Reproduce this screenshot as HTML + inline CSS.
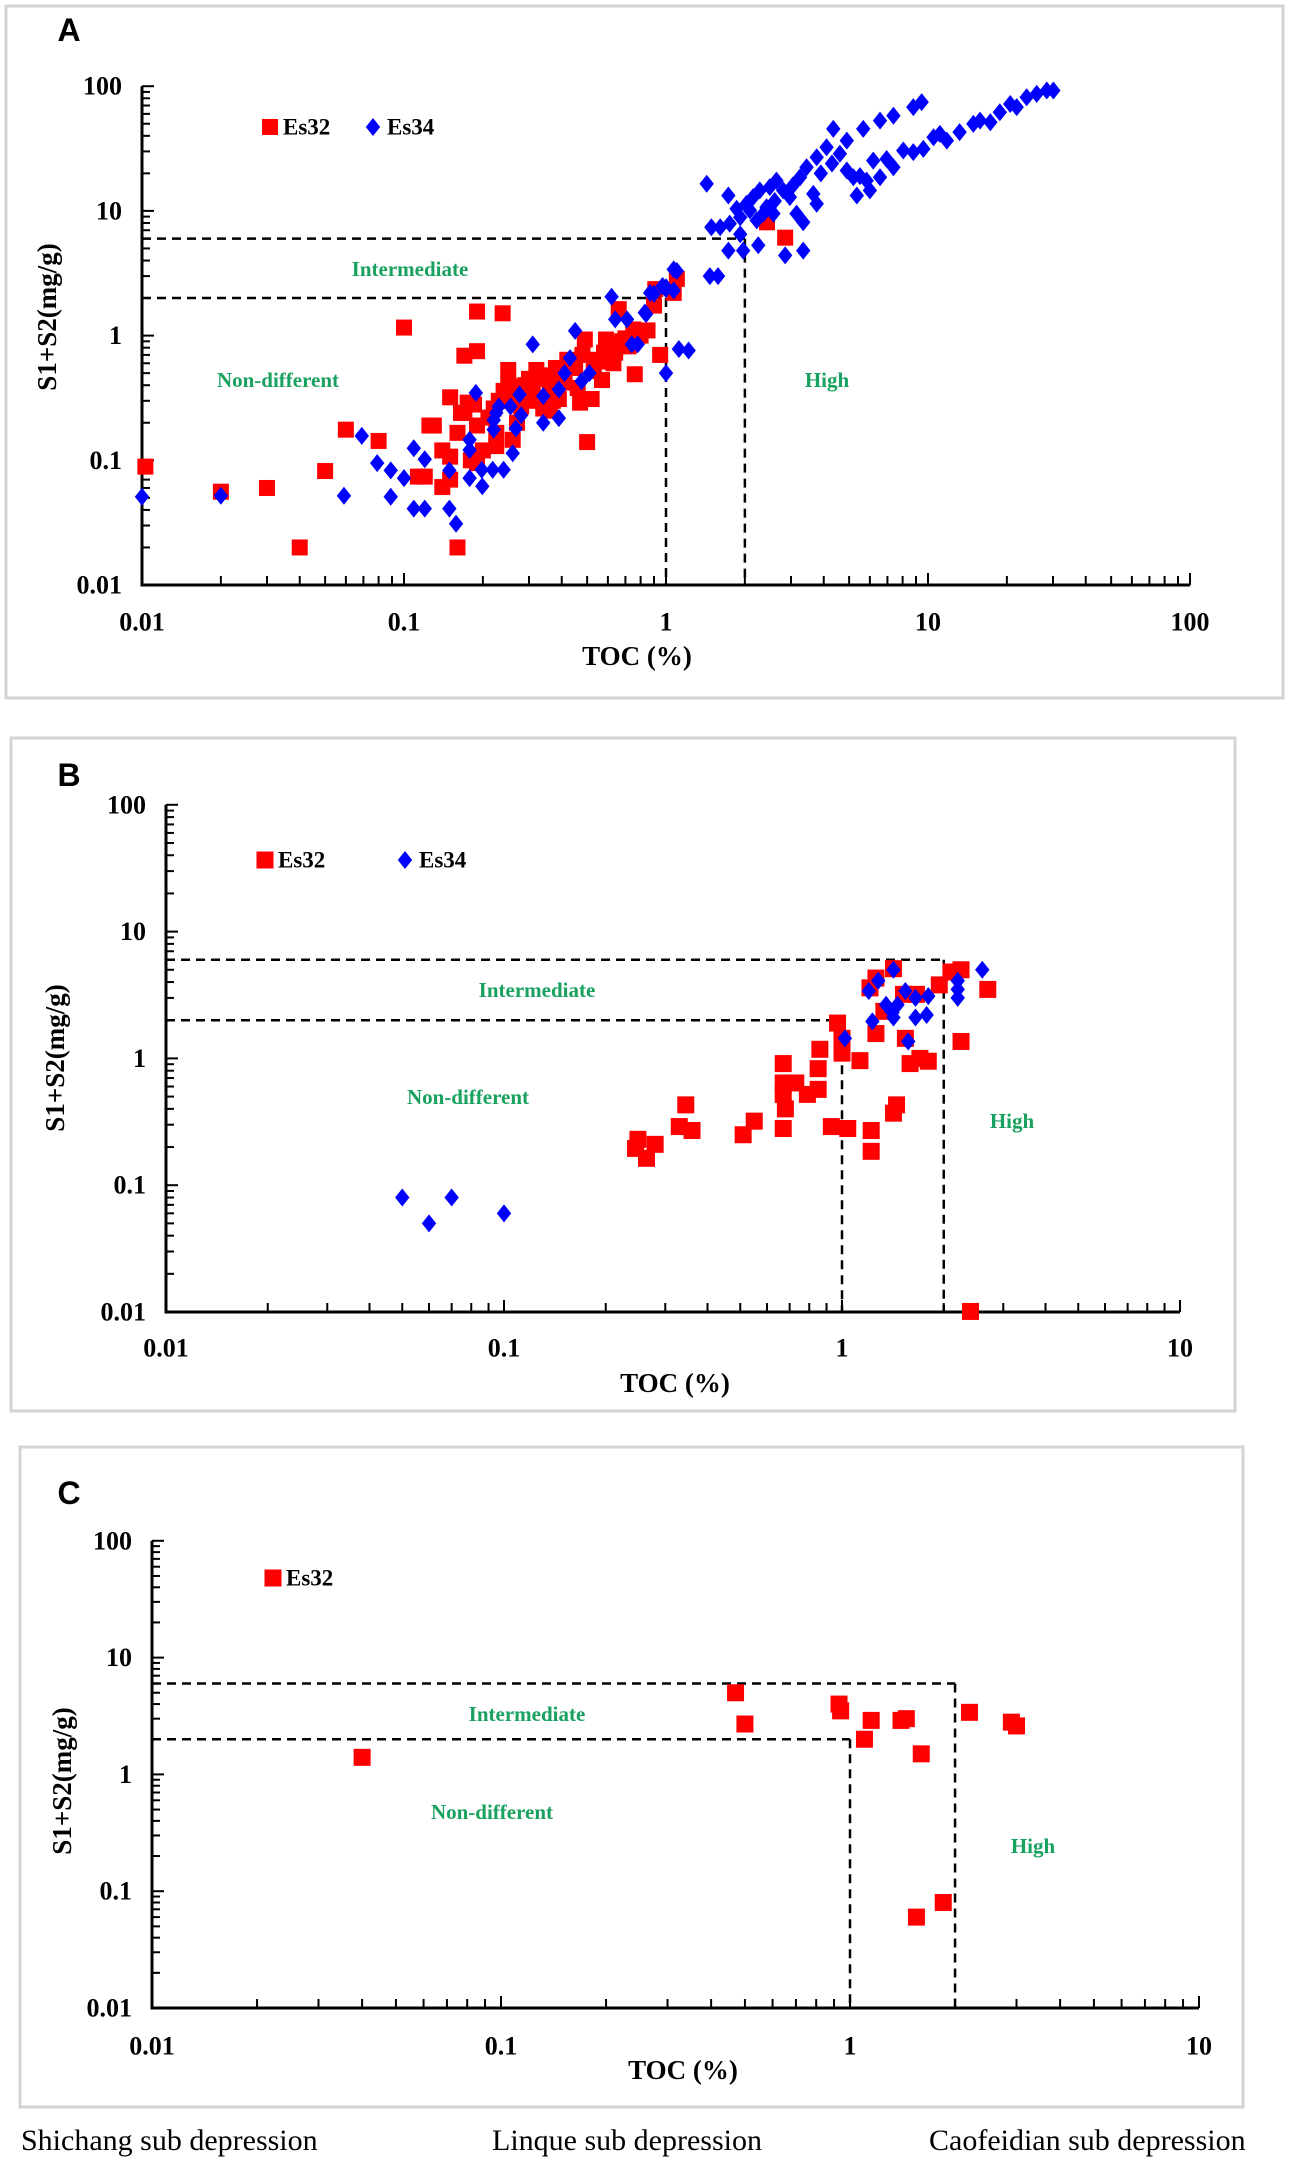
<!DOCTYPE html>
<html><head><meta charset="utf-8"><style>
html,body{margin:0;padding:0;background:#fff;}
svg{display:block;}
.tick{font-family:"Liberation Serif",serif;font-weight:bold;font-size:26px;fill:#000;}
.ttl{font-family:"Liberation Serif",serif;font-weight:bold;font-size:27px;fill:#000;}
.zone{font-family:"Liberation Serif",serif;font-weight:bold;font-size:21px;fill:#19a15f;}
.leg{font-family:"Liberation Serif",serif;font-weight:bold;font-size:23px;fill:#000;}
.letter{font-family:"Liberation Sans",sans-serif;font-weight:bold;font-size:32px;fill:#000;}
.bot{font-family:"Liberation Serif",serif;font-size:30px;fill:#000;}
</style></head><body>
<svg id="fig" width="1304" height="2162" viewBox="0 0 1304 2162" xmlns="http://www.w3.org/2000/svg">
<text class="bot" x="21" y="2150">Shichang sub depression</text>
<text class="bot" x="492" y="2150">Linque sub depression</text>
<text class="bot" x="929" y="2150">Caofeidian sub depression</text>
</svg>
<script>
// ---- Panel A data ----
const aRedX = [0.0103,0.020,0.030,0.040,0.050,0.060,0.080,0.10,0.19,0.238,0.17,0.19,0.15,0.125,0.13,0.113,0.12,0.14,0.15,0.16,0.165,0.175,0.19,0.19,0.14,0.15,0.16,0.25,0.25,0.225,0.26,0.32,0.31,0.36,0.42,0.49,0.39,0.47,0.52,0.57,0.59,0.64,0.66,0.75,0.50,0.76,0.58,0.54,0.90,0.95,0.91,1.10,1.07,0.28,0.36,0.225,0.27,0.18,2.85,2.43,0.30,0.45,0.40,0.62,0.70,
 0.21,0.23,0.24,0.26,0.29,0.33,0.35,0.38,0.44,0.48,0.55,0.60,0.68,0.72,0.80,0.85,0.22,0.30,0.34,0.41,0.46,0.53,0.63,0.20,0.27,0.37,0.17,0.185];
const aRedY = [0.089,0.056,0.060,0.020,0.082,0.176,0.143,1.16,1.56,1.51,0.69,0.75,0.32,0.19,0.19,0.074,0.074,0.12,0.107,0.166,0.24,0.29,0.19,0.095,0.061,0.07,0.020,0.53,0.42,0.166,0.146,0.53,0.35,0.39,0.64,0.93,0.31,0.29,0.31,0.44,0.93,0.73,1.63,1.12,0.14,0.49,0.73,0.64,1.74,0.70,2.36,2.85,2.2,0.27,0.25,0.13,0.39,0.10,6.1,8.1,0.45,0.55,0.48,0.85,0.95,
 0.22,0.30,0.36,0.34,0.40,0.45,0.48,0.55,0.58,0.70,0.62,0.80,0.90,0.82,1.0,1.1,0.26,0.30,0.26,0.42,0.38,0.52,0.60,0.12,0.20,0.30,0.24,0.28];
const aBlueX = [1.43,1.73,1.49,1.61,1.75,1.92,1.86,2.03,2.15,2.28,2.49,2.64,2.8,2.97,2.42,2.57,2.22,2.09,1.92,1.73,1.97,2.25,1.47,1.58,3.15,3.34,3.76,3.65,3.25,3.44,3.76,4.1,4.35,4.61,4.9,4.9,5.19,5.66,6.56,7.38,8.79,9.46,5.35,6.0,5.83,6.56,6.18,6.95,7.38,8.05,8.79,9.6,10.5,11.1,11.8,13.2,14.9,15.8,17.3,18.8,20.6,21.8,23.8,26,28.4,30.1,2.85,3.34,1.22,1.1,1.0,1.07,0.9,0.84,
 0.01,0.020,0.059,0.069,0.079,0.089,0.089,0.10,0.109,0.12,0.109,0.12,0.149,0.149,0.158,0.178,0.178,0.178,0.199,0.198,0.218,0.24,0.188,0.22,0.22,0.23,0.225,0.255,0.267,0.26,0.276,0.28,0.31,0.34,0.34,0.39,0.39,0.41,0.43,0.45,0.476,0.51,0.62,0.64,0.71,0.74,0.78,0.83,0.87,0.97,1.0,1.07,1.0,1.12,2.35,2.6,3.05,3.9,4.3,5.5];
const aBlueY = [16.5,13.3,7.4,7.4,7.9,8.9,10.4,11.4,12.9,14.6,15.5,17.5,14.6,12.9,10.7,9.5,8.4,10.1,6.5,4.8,4.8,5.3,3.0,3.0,9.5,8.1,11.4,13.7,18.6,22.4,26.9,32.4,45.5,28.7,36.6,21.1,18.6,45.5,53,58,68,74.5,13.3,14.6,17.5,18.6,25.3,26.1,22.4,30.5,29.6,31.4,39,41.5,36.6,42.8,49.9,53,51.4,61.8,72,68,81.6,86.8,92.3,92.3,4.4,4.8,0.76,3.3,2.44,2.3,2.16,1.49,
 0.051,0.052,0.052,0.157,0.095,0.083,0.051,0.072,0.125,0.102,0.041,0.041,0.041,0.083,0.031,0.146,0.121,0.072,0.062,0.084,0.084,0.084,0.347,0.176,0.21,0.27,0.24,0.27,0.18,0.114,0.337,0.23,0.85,0.327,0.2,0.37,0.218,0.5,0.66,1.09,0.43,0.5,2.05,1.35,1.35,0.85,0.85,1.53,2.2,2.5,2.36,3.4,0.5,0.78,9.5,12,16,20,24,19];
// ---- Panel B data ----
const bRedX = [0.249,0.264,0.28,0.245,0.345,0.33,0.36,0.51,0.55,0.67,0.67,0.67,0.68,0.67,0.73,0.79,0.85,0.85,0.86,0.97,1.0,1.0,0.93,1.04,1.13,1.22,1.22,1.26,1.21,1.26,1.42,1.33,1.52,1.66,1.54,1.59,1.7,1.8,1.45,1.42,1.94,2.1,2.25,2.7,2.25,2.4];
const bRedY = [0.23,0.163,0.21,0.195,0.43,0.29,0.27,0.25,0.32,0.91,0.64,0.52,0.40,0.28,0.64,0.52,0.57,0.83,1.18,1.9,1.44,1.1,0.29,0.28,0.96,0.27,0.185,1.57,3.6,4.3,5.1,2.35,3.2,3.2,1.44,0.91,1.0,0.95,0.43,0.37,3.8,4.8,5.0,3.5,1.36,0.0101];
const bBlueX = [1.42,2.6,1.28,1.2,1.35,1.46,1.41,1.42,1.23,1.54,1.65,1.8,1.65,1.78,1.57,1.02,2.2,2.2,2.2,0.05,0.06,0.07,0.1];
const bBlueY = [5.0,5.0,4.1,3.4,2.65,2.65,2.3,2.1,1.96,3.4,3.0,3.1,2.1,2.2,1.36,1.44,4.1,3.5,3.0,0.08,0.05,0.08,0.06];
// ---- Panel C data ----
const cRedX = [0.04,0.47,0.5,0.93,0.94,1.1,1.15,1.4,1.45,1.6,2.2,2.9,3.0,1.55,1.85];
const cRedY = [1.4,5.0,2.7,4.0,3.5,2.0,2.9,2.9,3.0,1.5,3.4,2.8,2.6,0.06,0.08];
const yTickLabels = ["0.01","0.1","1","10","100"];
const aXTickLabels = ["0.01","0.1","1","10","100"];
const bXTickLabels = ["0.01","0.1","1","10"];

const NS = "http://www.w3.org/2000/svg";
const svg = document.getElementById('fig');
function mk(tag, attrs, parent){const e=document.createElementNS(NS,tag);for(const k in attrs)e.setAttribute(k,attrs[k]);(parent||svg).appendChild(e);return e;}

function panel(P){
  const g = mk('g',{});
  
  
  const fx = v => P.x0 + (Math.log10(v)+2)*P.dx;
  const fy = v => P.y0 - (Math.log10(v)+2)*P.dy;
  const border = mk('rect',{x:P.bx,y:P.by,width:P.bw,height:P.bh,fill:'none',stroke:'#d4d4d4','stroke-width':3},g);
  
  
  const let_ = mk('text',{x:P.lx,y:P.ly,'text-anchor':'middle','dominant-baseline':'central',class:'letter'},g);
  let_.textContent = P.id;
  
  
  const xMax = fx(P.xLabels[P.xLabels.length-1]*1);
  const yTop = fy(100);
  const dash = {stroke:'#000','stroke-width':2.5,'stroke-dasharray':'9,6',fill:'none'};
  [[P.x0,fy(6),fx(2),fy(6)],[P.x0,fy(2),fx(1),fy(2)],[fx(1),fy(2),fx(1),P.y0],[fx(2),fy(6),fx(2),P.y0]].forEach((l,i)=>{
    const d = mk('line',Object.assign({x1:l[0],y1:l[1],x2:l[2],y2:l[3]},dash),g);
    
    
  });
  const ax = mk('path',{d:`M${P.x0},${yTop} L${P.x0},${P.y0} L${xMax},${P.y0}`,stroke:'#000','stroke-width':3,fill:'none'},g);
  
  
  for(let d=-2; d<2; d++){
    for(let m=1;m<=9;m++){
      const v=m*Math.pow(10,d); const y=fy(v);
      mk('line',{x1:P.x0,y1:y,x2:P.x0+(m===1?12:8),y2:y,stroke:'#000','stroke-width':2},g);
    }
  }
  mk('line',{x1:P.x0,y1:yTop,x2:P.x0+12,y2:yTop,stroke:'#000','stroke-width':2},g);
  yTickLabels.forEach((t,i)=>{
    const e=mk('text',{x:P.x0-20,y:fy(parseFloat(t)),'text-anchor':'end','dominant-baseline':'central',class:'tick'},g);
    e.textContent=t;
    
    
  });
  const nd = P.xLabels.length-1;
  for(let d=-2; d<-2+nd; d++){
    for(let m=1;m<=9;m++){
      const x=fx(m*Math.pow(10,d));
      mk('line',{x1:x,y1:P.y0,x2:x,y2:P.y0-(m===1?12:9),stroke:'#000','stroke-width':2},g);
    }
  }
  mk('line',{x1:xMax,y1:P.y0,x2:xMax,y2:P.y0-12,stroke:'#000','stroke-width':2},g);
  P.xLabels.forEach(t=>{
    const e=mk('text',{x:fx(parseFloat(t)),y:P.xty,'text-anchor':'middle','dominant-baseline':'central',class:'tick'},g);
    e.textContent=t;
    
    
  });
  const xt=mk('text',{x:P.xtx,y:P.xtly,'text-anchor':'middle','dominant-baseline':'central',class:'ttl'},g);
  xt.textContent='TOC (%)';
  
  
  const yt=mk('text',{x:0,y:0,'text-anchor':'middle','dominant-baseline':'central',class:'ttl',transform:`translate(${P.ytx},${P.yty}) rotate(-90)`},g);
  yt.textContent='S1+S2(mg/g)';
  
  
  [['Intermediate',P.zi],['Non-different',P.zn],['High',P.zh]].forEach(z=>{
    const e=mk('text',{x:z[1][0],y:z[1][1],'text-anchor':'middle','dominant-baseline':'central',class:'zone'},g);
    e.textContent=z[0];
    
    
  });
  const s=P.sq;
  P.red[0].forEach((xv,i)=>{
    const e=mk('rect',{x:fx(xv)-s/2,y:fy(P.red[1][i])-s/2,width:s,height:s,fill:'#ff0000'},g);
    
    
  });
  if(P.blue){
    const r=P.dm;
    P.blue[0].forEach((xv,i)=>{
      const cx=fx(xv), cy=fy(P.blue[1][i]);
      const e=mk('polygon',{points:`${cx},${cy-r} ${cx+r*0.8},${cy} ${cx},${cy+r} ${cx-r*0.8},${cy}`,fill:'#0000ff'},g);
      
      
    });
  }
  const ls=mk('rect',{x:P.leg[0]-s/2,y:P.leg[1]-s/2,width:s,height:s,fill:'#ff0000'},g);
  
  
  const lt=mk('text',{x:P.leg[0]+13,y:P.leg[1],'dominant-baseline':'central',class:'leg'},g);
  lt.textContent='Es32';
  
  
  if(P.blue){
    const cx=P.leg[2], cy=P.leg[1], r=P.dm;
    const ld=mk('polygon',{points:`${cx},${cy-r} ${cx+r*0.8},${cy} ${cx},${cy+r} ${cx-r*0.8},${cy}`,fill:'#0000ff'},g);
    
    
    const lt2=mk('text',{x:cx+14,y:cy,'dominant-baseline':'central',class:'leg'},g);
    lt2.textContent='Es34';
    
    
  }
}

panel({id:'A',x0:142,dx:262,y0:585,dy:124.7,bx:6,by:6,bw:1277,bh:692,lx:69,ly:30,
  xLabels:aXTickLabels,xty:622,xtx:637,xtly:656,ytx:47,yty:317,
  zi:[410,269],zn:[278,380],zh:[827,380],sq:16,dm:9,
  red:[aRedX,aRedY],blue:[aBlueX,aBlueY],leg:[270,127,373]});
panel({id:'B',x0:166,dx:338,y0:1312,dy:126.8,bx:11,by:738,bw:1224,bh:673,lx:69,ly:775,
  xLabels:bXTickLabels,xty:1348,xtx:675,xtly:1383,ytx:55,yty:1058,
  zi:[537,990],zn:[468,1097],zh:[1012,1121],sq:17,dm:9,
  red:[bRedX,bRedY],blue:[bBlueX,bBlueY],leg:[265,860,405]});
panel({id:'C',x0:152,dx:349,y0:2008,dy:116.8,bx:20,by:1447,bw:1223,bh:660,lx:69,ly:1493,
  xLabels:bXTickLabels,xty:2046,xtx:683,xtly:2070,ytx:62,yty:1781,
  zi:[527,1714],zn:[492,1812],zh:[1033,1846],sq:17,dm:9,
  red:[cRedX,cRedY],blue:null,leg:[273,1578,0]});
</script>
</body></html>
